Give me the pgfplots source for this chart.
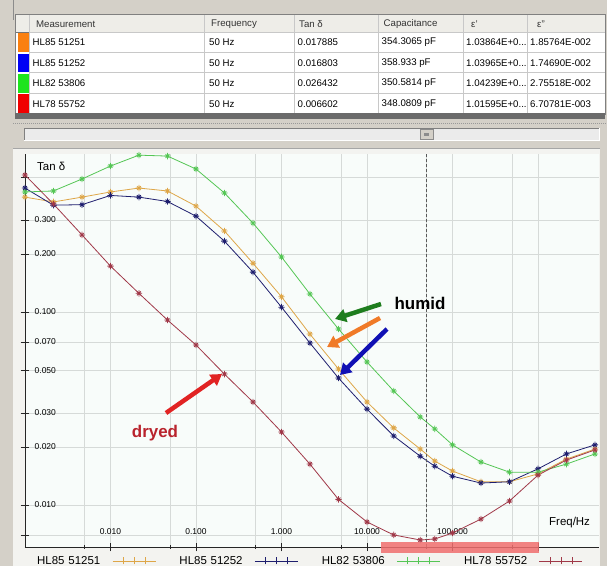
\documentclass[border=0pt]{standalone}
\usepackage{pgfplots}
\pgfplotsset{compat=1.18}
\usepackage{pgfplotstable}
\usepackage{fontspec}
\setmainfont{Liberation Sans}
\usetikzlibrary{arrows.meta}
\newcommand\fs[1]{\fontsize{#1}{#1}\selectfont}
\definecolor{winbg}{RGB}{212,208,200}
\definecolor{panelbg}{RGB}{243,243,240}
\definecolor{plotbg}{RGB}{248,252,250}
\definecolor{gridc}{RGB}{214,218,216}
\definecolor{hdrbg}{RGB}{238,237,232}
\definecolor{tline}{RGB}{200,200,200}
\definecolor{corange}{RGB}{222,166,72}
\definecolor{cblue}{RGB}{30,30,110}
\definecolor{cgreen}{RGB}{85,198,85}
\definecolor{cred}{RGB}{160,56,72}
\definecolor{borange}{RGB}{250,128,16}
\definecolor{bblue}{RGB}{0,0,245}
\definecolor{bgreen}{RGB}{30,228,30}
\definecolor{bred}{RGB}{240,0,0}
\definecolor{agreen}{RGB}{30,125,30}
\definecolor{aorange}{RGB}{240,122,40}
\definecolor{ablue}{RGB}{16,16,180}
\definecolor{ared}{RGB}{225,35,35}
\definecolor{tdry}{RGB}{185,35,45}
\definecolor{band}{RGB}{240,110,110}

\pgfdeclareplotmark{pc}{%
 \pgfpathmoveto{\pgfqpoint{-\pgfplotmarksize}{0pt}}\pgfpathlineto{\pgfqpoint{\pgfplotmarksize}{0pt}}%
 \pgfpathmoveto{\pgfqpoint{0pt}{-\pgfplotmarksize}}\pgfpathlineto{\pgfqpoint{0pt}{\pgfplotmarksize}}%
 \pgfpathmoveto{\pgfqpoint{-0.6\pgfplotmarksize}{-0.6\pgfplotmarksize}}\pgfpathlineto{\pgfqpoint{0.6\pgfplotmarksize}{0.6\pgfplotmarksize}}%
 \pgfpathmoveto{\pgfqpoint{-0.6\pgfplotmarksize}{0.6\pgfplotmarksize}}\pgfpathlineto{\pgfqpoint{0.6\pgfplotmarksize}{-0.6\pgfplotmarksize}}%
 \pgfusepathqstroke}

\pgfplotstableread{
f       o       b       g       r
0.001   0.394   0.439   0.419   0.513
0.00215 0.372   0.358   0.424   0.363
0.00464 0.394   0.360   0.489   0.251
0.01    0.419   0.402   0.571   0.173
0.0215  0.439   0.394   0.650   0.125
0.0464  0.424   0.374   0.643   0.0909
0.1     0.354   0.314   0.551   0.0675
0.215   0.263   0.233   0.414   0.0477
0.464   0.179   0.161   0.289   0.0342
1       0.120   0.106   0.193   0.0239
2.15    0.0769  0.0691  0.124   0.0163
4.64    0.0507  0.0455  0.0817  0.0107
10      0.0342  0.0314  0.0551  0.00817
20.5    0.0251  0.0228  0.0390  0.00700
42      0.0195  0.0179  0.0286  0.00659
62      0.0169  0.0159  0.0248  0.00667
100     0.0150  0.0141  0.0205  0.00716
215     0.0132  0.0130  0.0167  0.00846
464     0.0132  0.0132  0.0148  0.01049
1000    0.0145  0.0154  0.0148  0.01429
2150    0.0173  0.0184  0.0163  0.0171
4640    0.0195  0.0205  0.0184  0.0193
}\data

\newcommand\trow[6]{%
  \node[anchor=west,inner xsep=0pt] at (32.5,#1) {#2};
  \node[anchor=west,inner xsep=0pt] at (209,#1) {50 Hz};
  \node[anchor=west,inner xsep=0pt] at (297.5,#1) {#3};
  \node[anchor=west,inner xsep=0pt] at (381.5,#1) {#4};
  \node[anchor=west,inner xsep=0pt] at (466,#1) {#5};
  \node[anchor=west,inner xsep=0pt] at (530,#1) {#6};
}

\begin{document}
\begin{tikzpicture}
\useasboundingbox (0,0) rectangle (607bp,-566bp);
\clip (0,0) rectangle (607bp,-566bp);
\begin{scope}[x=1bp,y=-1bp]
\fill[winbg] (0,0) rectangle (607,566);
\draw[black!45] (13.5,0) -- (13.5,20);
% table
\fill[white] (16,14) rectangle (605,114);
\fill[hdrbg] (16,14) rectangle (605,32);
\foreach \yy in {32,52.5,72.5,93}{\draw[tline] (29,\yy) -- (605,\yy);}
\draw[black!55] (16,32) -- (29,32);
\foreach \xx in {29,204,294,378,463,527}{\draw[tline] (\xx,14) -- (\xx,114);}
\draw[black!50] (15.5,14) rectangle (605,114);
\fill[black!58] (15,113) rectangle (605,119);
\fill[borange] (17.5,33) rectangle (28.5,52);
\fill[bblue] (17.5,53.5) rectangle (28.5,72);
\fill[bgreen] (17.5,73.5) rectangle (28.5,92.5);
\fill[bred] (17.5,94) rectangle (28.5,113);
\begin{scope}[font=\fs{9.7}]
\node[anchor=west,inner xsep=0pt,text=black!80] at (36,24.5) {Measurement};
\node[anchor=west,inner xsep=0pt,text=black!80] at (211,24.5) {Frequency};
\node[anchor=west,inner xsep=0pt,text=black!80] at (299,24.5) {Tan δ};
\node[anchor=west,inner xsep=0pt,text=black!80] at (383.5,24.5) {Capacitance};
\node[anchor=west,inner xsep=0pt,text=black!80] at (471,24.5) {ε'};
\node[anchor=west,inner xsep=0pt,text=black!80] at (537,24.5) {ε''};
\trow{42.5}{HL85 51251}{0.017885}{354.3065 pF}{1.03864E+0...}{1.85764E-002}
\trow{63.2}{HL85 51252}{0.016803}{358.933 pF}{1.03965E+0...}{1.74690E-002}
\trow{83.2}{HL82 53806}{0.026432}{350.5814 pF}{1.04239E+0...}{2.75518E-002}
\trow{103.8}{HL78 55752}{0.006602}{348.0809 pF}{1.01595E+0...}{6.70781E-003}
\end{scope}
% separator and scrollbar
\draw[black!40, line width=1.5bp, dash pattern=on 1bp off 1bp] (13,123.5) -- (607,123.5);
\fill[black!8] (24,128) rectangle (599,140);
\draw[black!50] (24,140) -- (24,128) -- (599,128);
\draw[white] (24,140) -- (599,140) -- (599,128);
\fill[winbg] (420,129) rectangle (433,139);
\draw[black!45] (420,129) rectangle (433,139);
\fill[black!45] (424,132.5) rectangle (429,135.5);
% chart panel
\fill[panelbg] (13,148) rectangle (600,566);
\draw[black!35] (13,148) -- (600,148);
\end{scope}

\begin{axis}[
  at={(25bp,-547bp)}, anchor=south west,
  scale only axis, width=574bp, height=393bp,
  xmode=log, ymode=log,
  xmin=0.001, xmax=5170, ymin=0.00606, ymax=0.659,
  axis lines*=left,
  axis line style={black!85, line width=0.8bp},
  axis background/.style={fill=plotbg},
  xtick={0.01,0.1,1,10,100,1000},
  xticklabels={0.010,0.100,1.000,10.000,100.000,{}},
  minor xtick={0.005,0.05,0.5,5,50,500},
  ytick={0.007,0.01,0.02,0.03,0.05,0.07,0.1,0.2,0.3,0.5},
  yticklabels={{},0.010,0.020,0.030,0.050,0.070,0.100,0.200,0.300,{}},
  yminorticks=false,
  xmajorgrids, xminorgrids, ymajorgrids,
  major grid style={gridc, line width=0.7bp},
  minor grid style={gridc, line width=0.7bp},
  tick align=center,
  major tick length=9bp, minor tick length=4bp,
  tick style={black!85, line width=0.8bp},
  yticklabel style={anchor=west, font=\fs{8.5}, inner sep=0pt, xshift=14bp},
  xticklabel style={anchor=south, font=\fs{8.5}, inner sep=0pt, yshift=17bp},
  legend plot pos=right,
  legend columns=4,
  legend cell align=left,
  legend style={at={(axis description cs:0,0)}, anchor=north west,
    xshift=12bp, yshift=-9bp, draw=none, fill=none, inner sep=0pt,
    font=\fs{11.5},
    nodes={text width=66bp, inner sep=0pt},
    /tikz/every odd column/.append style={column sep=9bp},
    /tikz/every even column/.append style={column sep=23.5bp}},
  legend image code/.code={
    \draw[#1,mark=none] (0bp,0bp) -- (43bp,0bp);
    \draw[#1,mark=none] (10.5bp,-3.5bp) -- (10.5bp,3.5bp) (21.5bp,-3.5bp) -- (21.5bp,3.5bp) (32.5bp,-3.5bp) -- (32.5bp,3.5bp);
  },
  every axis plot/.append style={line width=0.8bp, mark=pc, mark size=3.2bp},
]
\addplot[corange] table[x=f,y=o] {\data};
\addlegendentry{HL85 51251}
\addplot[cblue] table[x=f,y=b] {\data};
\addlegendentry{HL85 51252}
\addplot[cgreen] table[x=f,y=g] {\data};
\addlegendentry{HL82 53806}
\addplot[cred] table[x=f,y=r] {\data};
\addlegendentry{HL78 55752}
\draw[black!65, line width=0.6bp, dash pattern=on 3bp off 2bp] (axis cs:50,0.00606) -- (axis cs:50,0.659);
\end{axis}

\begin{scope}[x=1bp,y=-1bp]
\fill[band, opacity=0.85] (381,542) rectangle (539,553);
\draw[agreen, line width=4.5bp, -{Triangle[length=11bp,width=13bp]}] (381,304) -- (335,319);
\draw[aorange, line width=4.5bp, -{Triangle[length=11bp,width=13bp]}] (380,318) -- (327,347);
\draw[ablue, line width=4.5bp, -{Triangle[length=11bp,width=13bp]}] (387,329) -- (340,375);
\draw[ared, line width=4.5bp, -{Triangle[length=11bp,width=13bp]}] (166,413) -- (222,374);
\node[font=\fs{17}\bfseries] at (420,303) {humid};
\node[font=\fs{17}\bfseries, text=tdry] at (155,433) {dryed};
\node[anchor=west, font=\fs{11.5}, inner sep=0pt] at (37,166) {Tan δ};
\node[anchor=west, font=\fs{11.5}, inner sep=0pt] at (549,523) {Freq/Hz};
\end{scope}
\end{tikzpicture}
\end{document}
